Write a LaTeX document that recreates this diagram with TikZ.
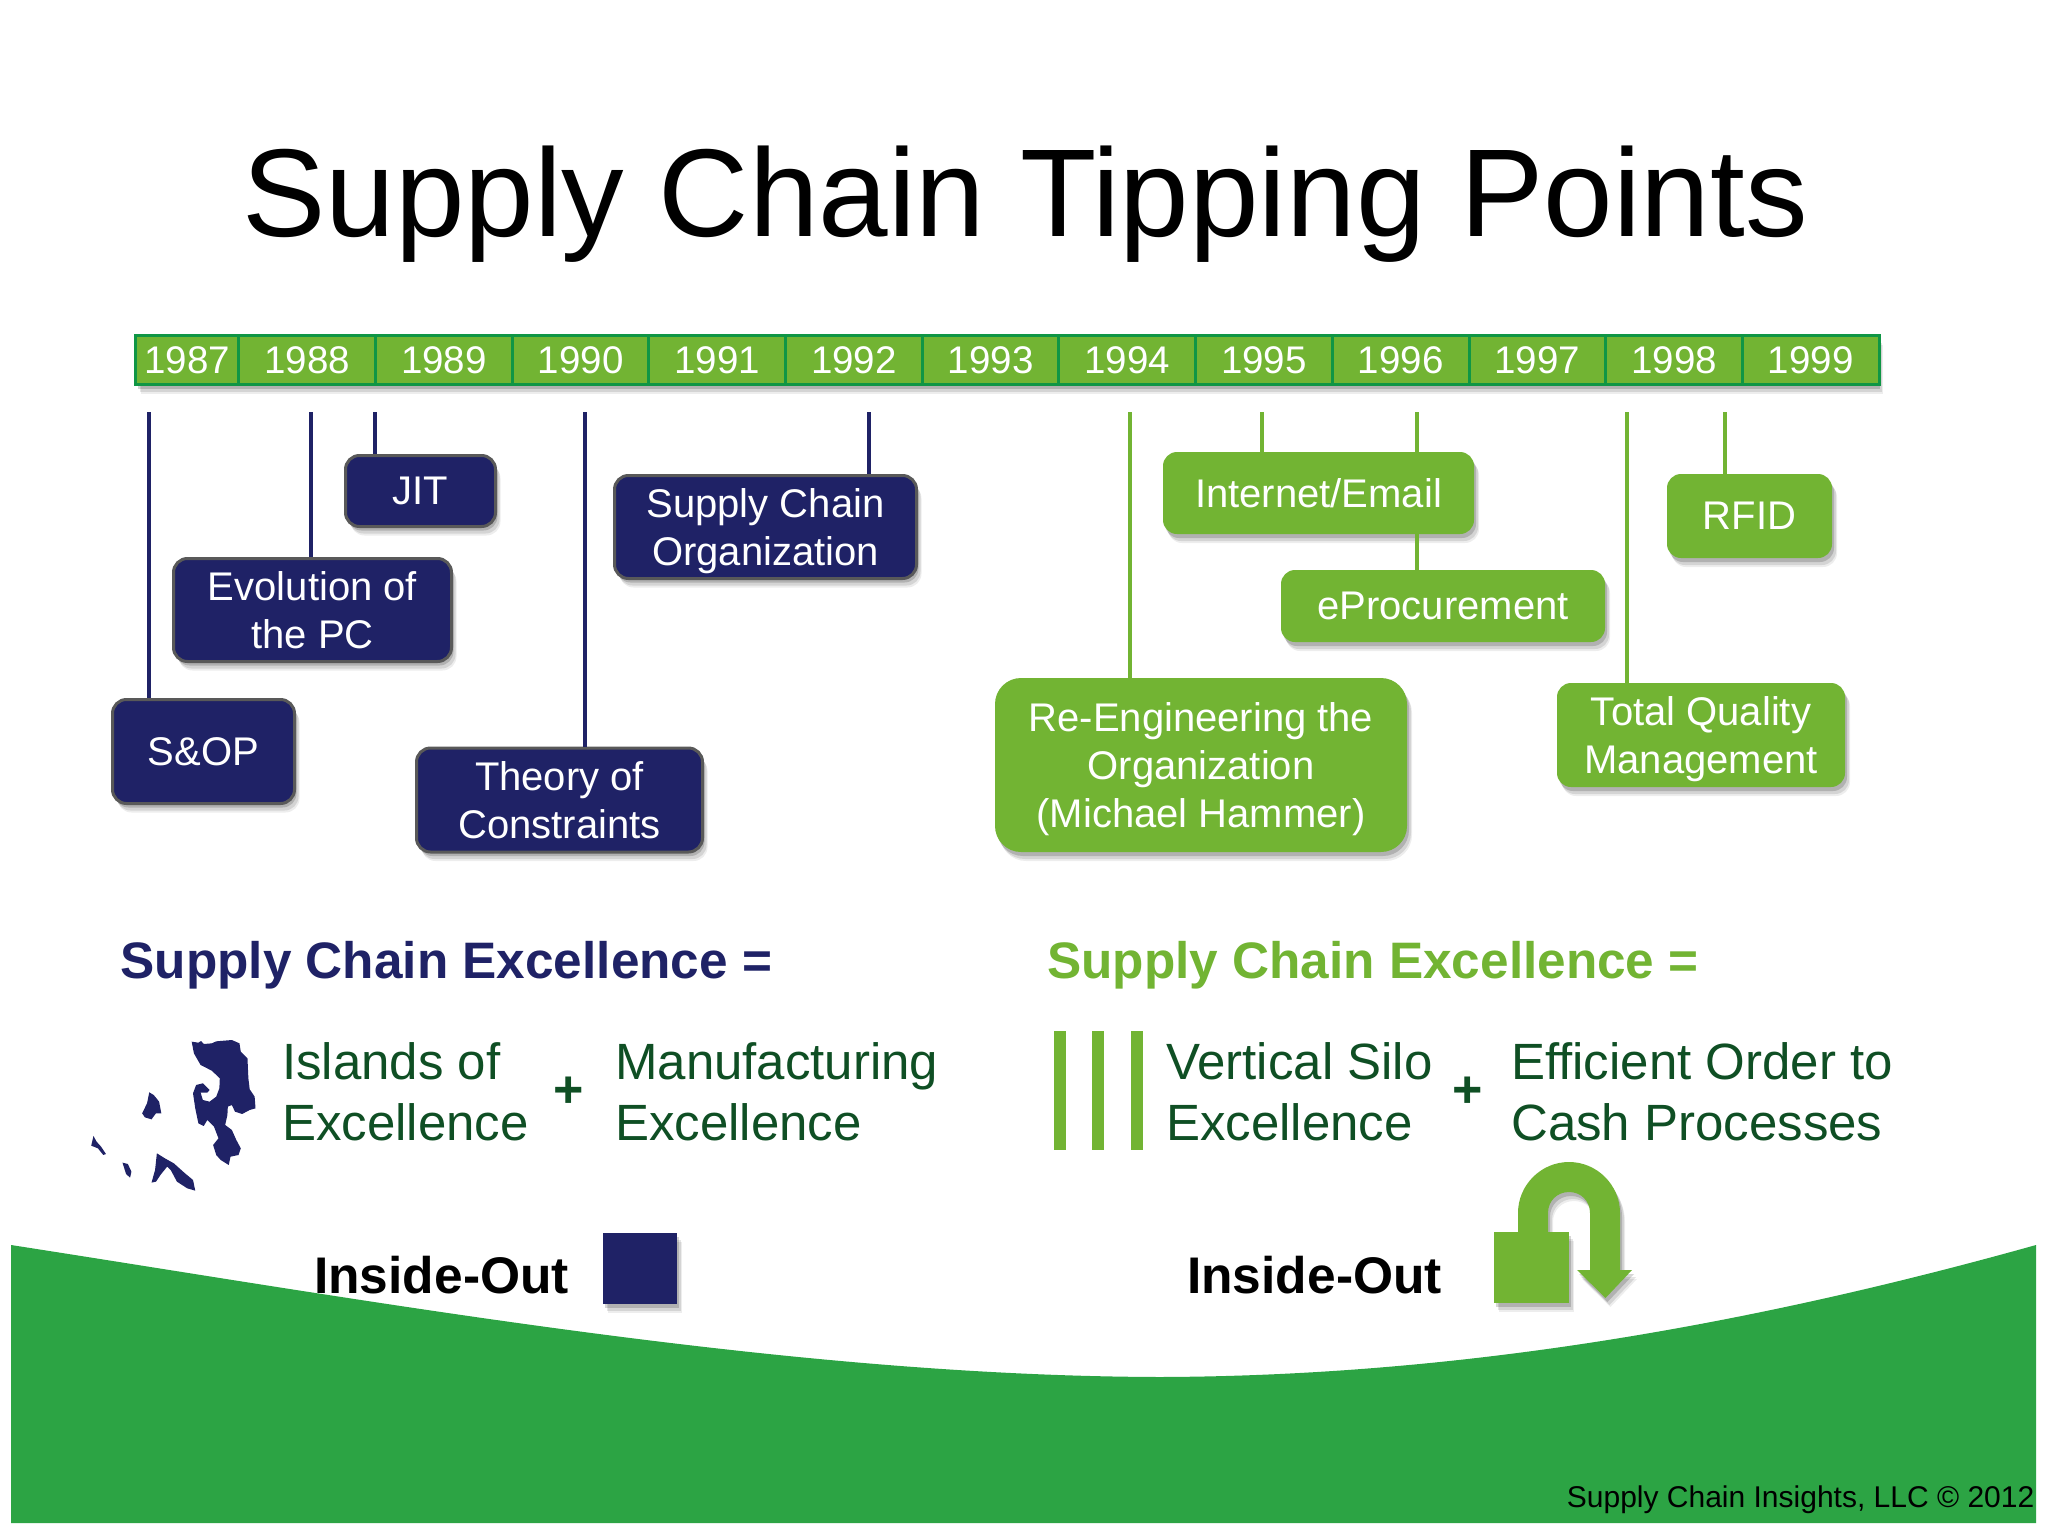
\documentclass[tikz,border=0pt]{standalone}
\usepackage{fontspec}
\setmainfont{Liberation Sans}
\usepackage{xcolor}
\usetikzlibrary{shadows}
\definecolor{navy}{HTML}{1F2266}
\definecolor{leaf}{HTML}{72B433}
\definecolor{wave}{HTML}{2CA444}
\definecolor{pine}{HTML}{0F4F24}
\definecolor{rim}{HTML}{0F9645}
\newcommand{\fs}[2]{\fontsize{#1}{#2}\selectfont}

\begin{document}
\begin{tikzpicture}[x=1pt,y=-1pt,
  softshadow/.style={
    drop shadow={shadow xshift=5pt,shadow yshift=-9pt,fill=black,opacity=.07},
    drop shadow={shadow xshift=4pt,shadow yshift=-7pt,fill=black,opacity=.10},
    drop shadow={shadow xshift=2pt,shadow yshift=-4pt,fill=black,opacity=.16}},
  yearcell/.style={draw=rim,line width=3pt,fill=leaf,text=white,font=\fs{38.5}{46},inner sep=0pt,minimum height=49pt},
  tick/.style={line width=4.5pt},
  navytick/.style={tick,draw=navy},
  leaftick/.style={tick,draw=leaf},
  navybox/.style={rounded corners=14pt,draw=black!65,line width=3pt,fill=navy,text=white,softshadow,
    font=\fs{40}{48},align=center,inner sep=0pt},
  leafbox/.style={rounded corners=14pt,fill=leaf,text=white,softshadow,
    font=\fs{40}{48},align=center,inner sep=0pt},
  headline/.style={anchor=base west,font=\fs{51.3}{61}\bfseries,inner sep=0pt},
  bodytext/.style={anchor=west,align=left,text=pine,font=\fs{51}{61},inner sep=0pt},
  plussign/.style={text=pine,font=\fs{52}{61}\bfseries,inner sep=0pt},
  insideout/.style={anchor=base west,font=\fs{51.5}{61}\bfseries,inner sep=0pt}]
\useasboundingbox (0,0) rectangle (2048,1536);
\fill[white] (0,0) rectangle (2048,1536);

\fill[wave] (11,1245) .. controls (384,1303) and (790,1376) .. (1160,1377)
  .. controls (1450,1376) and (1736,1329) .. (2036,1245) -- (2036,1523) -- (11,1523) -- cycle;

\node[font=\fs{125}{125},anchor=base] (title) at (1025,236) {Supply Chain Tipping Points};

% timeline
\node[yearcell,minimum width=1742pt,softshadow,text=leaf] (bar) at (1006.5,360) {};
\node[yearcell,minimum width=103.5pt] (y1987) at (187.25,360) {1987};
\foreach \yr [count=\k from 0] in {1988,...,1999}
  \node[yearcell,minimum width=136.67pt] (y\yr) at (307.3+136.67*\k,360) {\yr};

\coordinate (tsop) at (149,412);
\coordinate (tpc) at (311,412);
\coordinate (tjit) at (375,412);
\coordinate (ttoc) at (585,412);
\coordinate (tsco) at (869,412);
\coordinate (treng) at (1130,412);
\coordinate (tnet) at (1262,412);
\coordinate (tproc) at (1417,412);
\coordinate (ttqm) at (1627,412);
\coordinate (trfid) at (1725,412);

\node[navybox,minimum width=150pt,minimum height=71pt] (jit) at (420.5,491) {JIT};
\node[navybox,minimum width=278pt,minimum height=103pt] (pc) at (312.5,610) {Evolution of\\the PC};
\node[navybox,minimum width=182pt,minimum height=104pt] (sop) at (203.5,751.5) {S\&OP};
\node[navybox,minimum width=286pt,minimum height=104pt] (toc) at (559.5,800) {Theory of\\Constraints};
\node[navybox,minimum width=302pt,minimum height=103pt] (sco) at (765.5,527) {Supply Chain\\\smash{Organization}};
\node[leafbox,minimum width=311pt,minimum height=82pt] (net) at (1318.5,493) {Internet/Email};
\node[leafbox,minimum width=324pt,minimum height=72pt] (proc) at (1443,606) {eProcurement};
\node[leafbox,rounded corners=26pt,minimum width=412pt,minimum height=174pt] (reng) at (1201,765)
  {Re-Engineering the\\Organization\\\smash{(Michael Hammer)}};
\node[leafbox,minimum width=288pt,minimum height=104pt] (tqm) at (1701,735) {Total Quality\\\smash{Management}};
\node[leafbox,minimum width=165pt,minimum height=84pt] (rfid) at (1749.5,516) {RFID};

\draw[navytick] (tsop) -- (tsop |- sop.north);
\draw[navytick] (tpc) -- (tpc |- pc.north);
\draw[navytick] (tjit) -- (tjit |- jit.north);
\draw[navytick] (ttoc) -- (ttoc |- toc.north);
\draw[navytick] (tsco) -- (tsco |- sco.north);
\draw[leaftick] (treng) -- (treng |- reng.north);
\draw[leaftick] (tnet) -- (tnet |- net.north);
\draw[leaftick] (tproc) -- (tproc |- net.north);
\draw[leaftick] (tproc |- net.south) -- (tproc |- proc.north);
\draw[leaftick] (ttqm) -- (ttqm |- tqm.north);
\draw[leaftick] (trfid) -- (trfid |- rfid.north);

\node[headline,text=navy] (headl) at (120.5,978) {Supply Chain Excellence =};
\node[headline,text=leaf] (headr) at (1047,978) {Supply Chain Excellence =};

% islands
\begin{scope}[shift={(60,1000)},xscale=.4464,yscale=.3333]
\fill[navy] (295,125) -- (310,128) -- (316,123) -- (322,132) -- (340,130) -- (350,124) -- (385,120)
  -- (402,130) -- (405,155) -- (420,175) -- (422,235) -- (425,268) -- (436,290) -- (438,325)
  -- (425,330) -- (408,342) -- (392,335) -- (385,315) -- (376,320) -- (375,345) -- (370,375)
  -- (385,390) -- (395,420) -- (405,445) -- (400,465) -- (382,470) -- (378,495) -- (360,480)
  -- (350,465) -- (343,435) -- (355,415) -- (345,380) -- (330,360) -- (322,378) -- (310,370)
  -- (303,325) -- (298,280) -- (305,255) -- (320,250) -- (335,270) -- (330,278) -- (315,278)
  -- (320,300) -- (335,305) -- (350,290) -- (357,265) -- (358,235) -- (340,212) -- (315,195) -- (300,160) -- cycle;
\fill[navy] (200,277) -- (210,285) -- (222,305) -- (227,340) -- (215,340) -- (205,358) -- (190,352)
  -- (184,340) -- (195,310) -- cycle;
\fill[navy] (75,408) -- (82,425) -- (92,440) -- (103,462) -- (97,465) -- (85,445) -- (70,437) -- cycle;
\fill[navy] (140,488) -- (152,492) -- (160,515) -- (157,533) -- (148,522) -- cycle;
\fill[navy] (217,460) -- (235,475) -- (255,490) -- (280,520) -- (298,540) -- (303,572) -- (285,565)
  -- (262,545) -- (248,510) -- (240,500) -- (225,525) -- (215,545) -- (205,548) -- (213,510) -- cycle;
\end{scope}

\node[bodytext] (islands) at (282,1092) {Islands of\\Excellence};
\node[plussign] (plusl) at (569,1092) {+};
\node[bodytext] (mfg) at (615,1092) {Manufacturing\\Excellence};

\fill[leaf] (1054,1031) rectangle (1066,1150);
\fill[leaf] (1092,1031) rectangle (1104,1150);
\fill[leaf] (1131,1031) rectangle (1143,1150);

\node[bodytext] (silo) at (1166,1092) {Vertical Silo\\Excellence};
\node[plussign] (plusr) at (1468,1092) {+};
\node[bodytext] (cash) at (1511,1092) {Efficient Order to\\Cash Processes};

\node[insideout] (outl) at (314,1293) {Inside-Out};
\node[fill=navy,softshadow,minimum width=74pt,minimum height=71pt,inner sep=0pt] (sqr) at (640,1268.5) {};
\node[insideout] (outr) at (1187,1293) {Inside-Out};

% u-turn arrow
\fill[leaf,softshadow] (1518,1240) -- (1518,1213) .. controls (1518,1185) and (1541,1162) .. (1569,1162)
  .. controls (1597,1162) and (1620,1185) .. (1620,1213) -- (1620,1270) -- (1632,1270) -- (1605.5,1298)
  -- (1577,1270) -- (1590,1270) -- (1590,1213) .. controls (1590,1201) and (1581,1192) .. (1569,1192)
  .. controls (1557,1192) and (1548,1201) .. (1548,1213) -- (1548,1240) -- cycle;
\fill[leaf,softshadow] (1494,1232) rectangle (1569,1303);

\node[anchor=base east,font=\fs{30}{36},inner sep=0pt] (foot) at (2034.5,1507) {Supply Chain Insights, LLC © 2012};
\end{tikzpicture}
\end{document}
